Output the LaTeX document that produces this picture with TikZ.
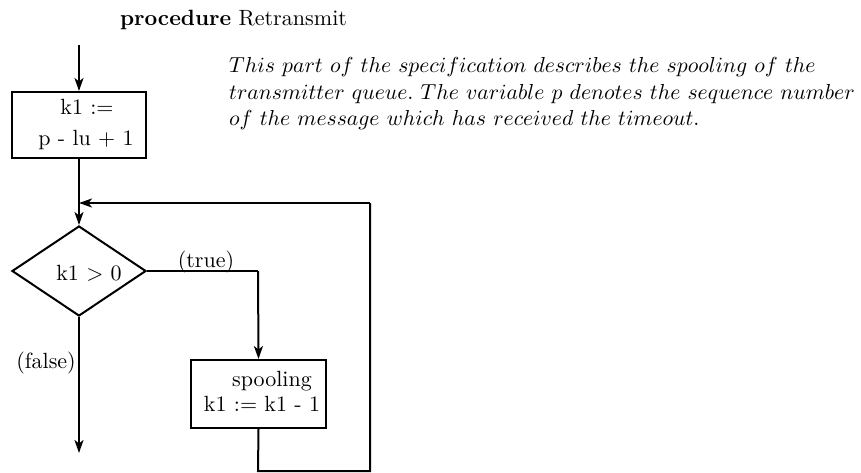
\documentclass[tikz,border=0pt]{standalone}
\usepackage{graphicx}
\usetikzlibrary{arrows.meta,shapes.geometric}
\newlength\notewd
\newlength\titlewd
\newcommand\notelinetwo{$transmitter\ queue.\ The\ variable\ p\ denotes\ the\ sequence\ number$}
\newcommand\titletext{\textbf{procedure} Retransmit}
\newcommand\bigt[1]{\scalebox{2.2}{#1}}
\begin{document}
\settowidth\notewd{\notelinetwo}
\settowidth\titlewd{\titletext}
\pgfmathsetmacro\notescale{626/\notewd}
\pgfmathsetmacro\titlescale{227/\titlewd}
\newcommand\bign[1]{\scalebox{\notescale}{#1}}
\begin{tikzpicture}[x=1pt,y=-1pt,
  line/.style={line width=2pt},
  arr/.style={line width=2pt,-{Stealth[length=13pt,width=9pt,inset=3.5pt]}},
  boxn/.style={draw,line width=2pt,minimum width=134pt,minimum height=66pt},
  dia/.style={draw,line width=2pt,diamond,minimum width=134pt,minimum height=90pt,aspect=1.49,inner sep=0pt},
  txt/.style={inner sep=0pt},
  notetxt/.style={inner sep=0pt,anchor=base west}]
\useasboundingbox (0,0) rectangle (861,473);
\node[txt,anchor=base] (title) at (233.5,26) {\scalebox{\titlescale}{\titletext}};
\node[notetxt] (note1) at (229,73)
 {\bign{$This\ part\ of\ the\ specification\ describes\ the\ spooling\ of\ the$}};
\node[notetxt] (note2) at (229,99.5) {\bign{\notelinetwo}};
\node[notetxt] (note3) at (229,126)
 {\bign{$of\ the\ message\ which\ has\ received\ the\ timeout.$}};
\coordinate (start) at (79,45);
\node[boxn] (b1) at (79,125) {};
\node[txt,anchor=base] (b1a) at (87,115) {\bigt{k1 :=}};
\node[txt,anchor=base] (b1b) at (86,145.5) {\bigt{p - lu + 1}};
\node[dia] (d) at (79,271) {};
\node[txt,anchor=base] (dt) at (89,280) {\bigt{k1 $>$ 0}};
\node[boxn,minimum width=135pt,minimum height=68pt] (b2) at (258.5,394) {};
\node[txt,anchor=base] (b2a) at (272,386) {\bigt{spooling}};
\node[txt,anchor=base] (b2b) at (262,411) {\bigt{k1 := k1 - 1}};
\node[txt,anchor=base] (tl) at (206,267) {\bigt{(true)}};
\node[txt,anchor=base east] (fl) at (76,368) {\bigt{(false)}};
\coordinate (merge) at (79,203);
\coordinate (c1) at (258,271);
\coordinate (c2) at (258,471);
\coordinate (c3) at (370,471);
\coordinate (c4) at (370,203);
\coordinate (endf) at (79,453);
\draw[arr] (start) -- (b1.north);
\draw[arr] (b1.south) -- (d.north);
\draw[line] (d.east) -- (c1);
\draw[arr] (c1) -- (b2.north);
\draw[line] (b2.south) -- (c2) -- (c3) -- (c4);
\draw[arr] (c4) -- (merge);
\draw[arr] (d.south) -- (endf);
\end{tikzpicture}
\end{document}
